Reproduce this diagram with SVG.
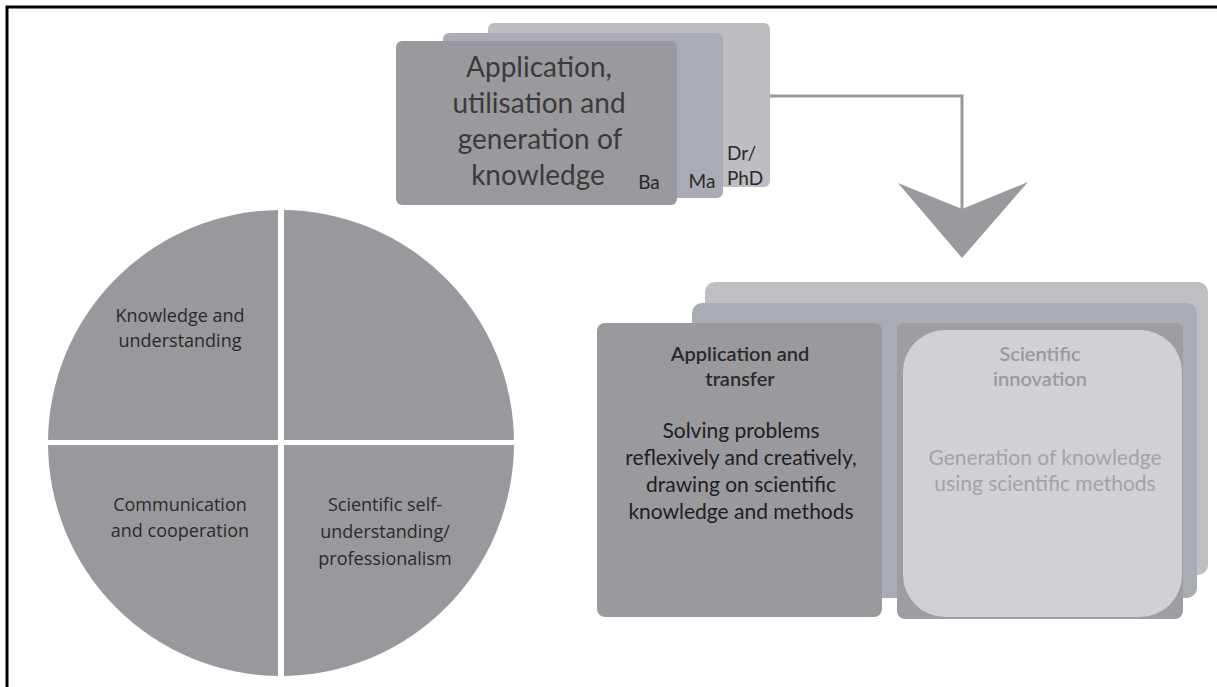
<svg xmlns="http://www.w3.org/2000/svg" width="1217" height="687" viewBox="0 0 1217 687">
<style>
.t{font-family:Lato,"Open Sans","Liberation Sans",sans-serif;text-anchor:middle}
.c{font-family:"Open Sans","Liberation Sans",sans-serif;text-anchor:middle;font-size:18px;fill:#2a2a2a}
.big{font-size:28px;fill:#3a3a3a}
.sm{font-size:19px;fill:#2a2a2a}
.h{font-size:20px;font-weight:600}
.b{font-size:21px}
</style>
<rect x="0" y="0" width="1217" height="687" fill="#fff"/>
<path d="M7,687 V7 H1217" fill="none" stroke="#000" stroke-width="3"/>

<g id="circle">
  <circle cx="281" cy="443" r="233" fill="#99999d"/>
  <rect x="278" y="205" width="6" height="480" fill="#fff"/>
  <rect x="44" y="440" width="475" height="5" fill="#fff"/>
</g>
<g id="knowledge-understanding">
  <text class="c" x="180" y="322">Knowledge and</text>
  <text class="c" x="180" y="347">understanding</text>
</g>
<g id="communication-cooperation">
  <text class="c" x="180" y="511">Communication</text>
  <text class="c" x="180" y="537">and cooperation</text>
</g>
<g id="self-understanding">
  <text class="c" x="385" y="511">Scientific self-</text>
  <text class="c" x="385" y="538">understanding/</text>
  <text class="c" x="385" y="565">professionalism</text>
</g>

<g id="levels">
  <rect x="488" y="23" width="282" height="164" rx="6" fill="#bebec2"/>
  <rect x="443" y="33" width="280" height="165" rx="6" fill="#a9acb4"/>
  <rect x="396" y="41" width="281" height="164" rx="6" fill="#9a9a9e"/>
  <text class="t big" x="539" y="77">Application,</text>
  <text class="t big" x="539" y="113">utilisation and</text>
  <text class="t big" x="540" y="149">generation of</text>
  <text class="t big" x="538" y="185">knowledge</text>
  <text class="t sm" x="649" y="189">Ba</text>
  <text class="t sm" x="702" y="188">Ma</text>
  <text class="t sm" x="727" y="160" style="text-anchor:start">Dr/</text>
  <text class="t sm" x="727" y="185" style="text-anchor:start">PhD</text>
</g>

<g id="connectors">
  <path d="M770,96 H962 V212" fill="none" stroke="#9a9a9e" stroke-width="3"/>
  <polygon points="898,183 962,209 1028,182 962,258" fill="#9a9a9e"/>
</g>

<g id="outcomes">
  <rect x="705" y="282" width="503" height="293" rx="10" fill="#bebfc3"/>
  <rect x="692" y="303" width="505" height="295" rx="10" fill="#a9acb3"/>
</g>
<g id="application-transfer">
  <rect x="597" y="323" width="285" height="294" rx="8" fill="#9a9a9e"/>
  <text class="t h" x="740" y="361" fill="#2a2a2a">Application and</text>
  <text class="t h" x="740" y="386" fill="#2a2a2a">transfer</text>
  <text class="t b" x="741" y="438" fill="#1e1e1e">Solving problems</text>
  <text class="t b" x="741" y="465" fill="#1e1e1e">reflexively and creatively,</text>
  <text class="t b" x="741" y="492" fill="#1e1e1e">drawing on scientific</text>
  <text class="t b" x="741" y="519" fill="#1e1e1e">knowledge and methods</text>
</g>
<g id="scientific-innovation">
  <rect x="897" y="323" width="286" height="296" rx="8" fill="#9e9ea2"/>
  <rect x="903" y="330" width="279" height="287" rx="42" fill="#d1d1d5"/>
  <text class="t h" x="1040" y="361" fill="#9a9a9e">Scientific</text>
  <text class="t h" x="1040" y="386" fill="#9a9a9e">innovation</text>
  <text class="t b" x="1045" y="465" fill="#a3a3a7">Generation of knowledge</text>
  <text class="t b" x="1045" y="491" fill="#a3a3a7">using scientific methods</text>
</g>
</svg>
